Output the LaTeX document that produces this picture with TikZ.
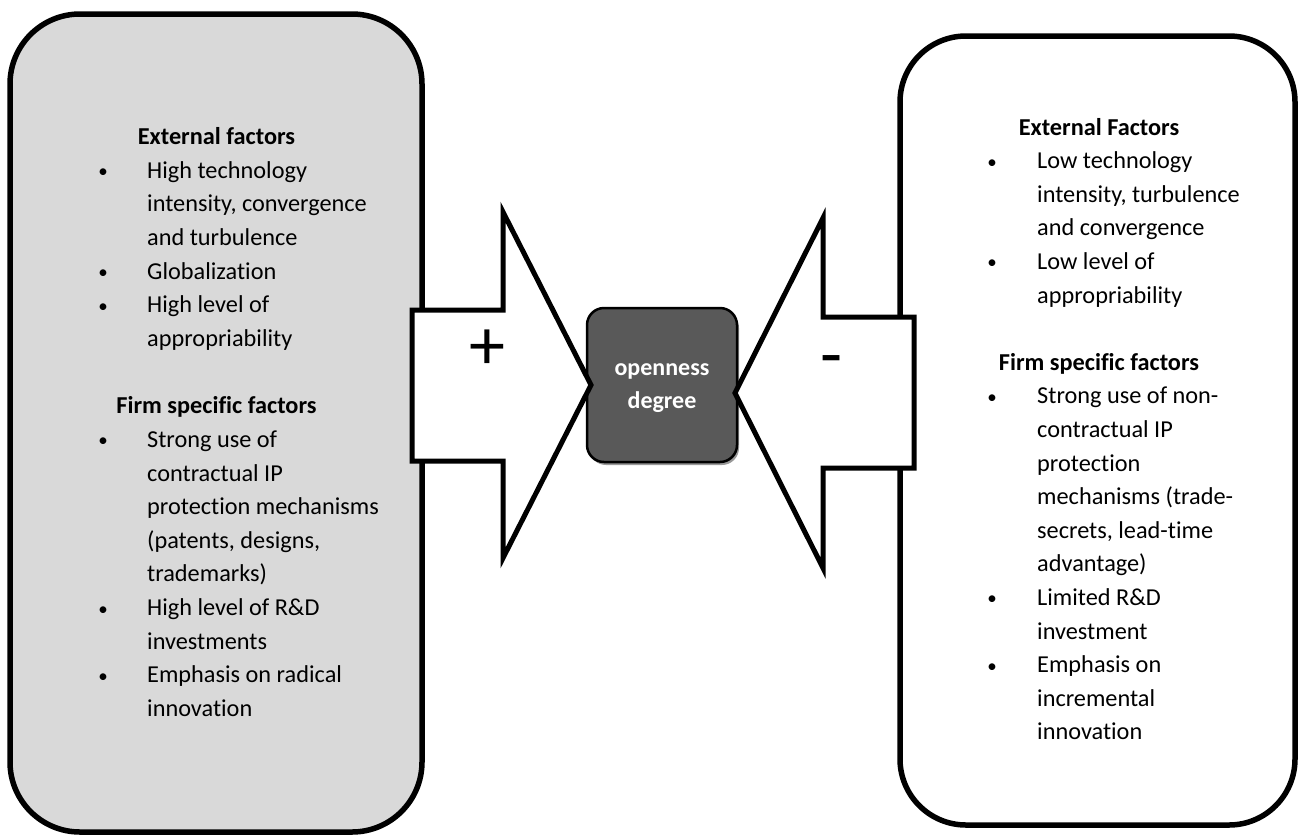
\documentclass[tikz,border=0pt]{standalone}
\usepackage{fontspec}
\setmainfont{Carlito}[Ligatures=NoCommon]
\usetikzlibrary{shadows}
\definecolor{boxgray}{HTML}{D9D9D9}
\definecolor{ctrgray}{HTML}{595959}
\begin{document}
\begin{tikzpicture}[x=1pt,y=-1pt,
  box/.style={draw=black, line width=5.5pt, inner sep=0pt},
  bigarrow/.style={draw=black, fill=white, line width=5pt, line join=miter},
  txt/.style={font=\fontsize{24.3}{28}\selectfont, anchor=base west, inner sep=0pt},
  head/.style={font=\fontsize{24.3}{28}\selectfont\bfseries, anchor=base, inner sep=0pt},
  bul/.style={font=\fontsize{19}{22}\selectfont, anchor=base, inner sep=0pt},
  ctrtxt/.style={font=\fontsize{24}{28}\selectfont\bfseries, text=white, anchor=base, inner sep=0pt},
  sign/.style={font=\fontsize{72}{80}\selectfont, inner sep=0pt}]
\useasboundingbox (0,0) rectangle (1298,836);

% side boxes
\node[box, fill=boxgray, rounded corners=70pt, minimum width=412pt, minimum height=818pt] (left) at (216,423) {};
\node[box, fill=white, rounded corners=66pt, minimum width=395pt, minimum height=789pt] (right) at (1097.5,430.5) {};

% centre node
\node[draw=black, fill=ctrgray, line width=2.5pt, rounded corners=17pt,
      minimum width=150pt, minimum height=154pt,
      drop shadow={shadow xshift=2pt, shadow yshift=-3pt, fill=black!40, opacity=1}] (ctr) at (662,385) {};
\node[ctrtxt] (ctr1) at (662,375) {openness};
\node[ctrtxt] (ctr2) at (662,408) {degree};

% big arrows
\coordinate (ltip) at (591,385);
\coordinate (rtip) at (735,393);
\draw[bigarrow] (412,310) -- (503,310) -- (503,212) -- (ltip) -- (503,558) -- (503,461) -- (412,461) -- cycle;
\draw[bigarrow] (914,317) -- (823,317) -- (823,218) -- (rtip) -- (823,568) -- (823,468) -- (914,468) -- cycle;
\node[sign] (plus) at (487,350) {+};
\node[sign] (minus) at (832,367) {-};

% left text
\node[head] (lh1) at (216.5,144.5) {External factors};
\node[bul] at (103,177.5) {\textbullet};
\node[txt] at (147,178.15) {High technology};
\node[txt] at (147,211.8) {intensity, convergence};
\node[txt] at (147,245.45) {and turbulence};
\node[bul] at (103,278.5) {\textbullet};
\node[txt] at (147,279.1) {Globalization};
\node[bul] at (103,312.1) {\textbullet};
\node[txt] at (147,312.75) {High level of};
\node[txt] at (147,346.4) {appropriability};
\node[head] (lh2) at (216.5,413.7) {Firm specific factors};
\node[bul] at (103,446.7) {\textbullet};
\node[txt] at (147,447.35) {Strong use of};
\node[txt] at (147,481.0) {contractual IP};
\node[txt] at (147,514.65) {protection mechanisms};
\node[txt] at (147,548.3) {(patents, designs,};
\node[txt] at (147,581.95) {trademarks)};
\node[bul] at (103,615) {\textbullet};
\node[txt] at (147,615.6) {High level of R\&D};
\node[txt] at (147,649.25) {investments};
\node[bul] at (103,682.3) {\textbullet};
\node[txt] at (147,682.9) {Emphasis on radical};
\node[txt] at (147,716.55) {innovation};

% right text
\node[head] (rh1) at (1099,135) {External Factors};
\node[bul] at (992,168) {\textbullet};
\node[txt] at (1037,168.6) {Low technology};
\node[txt] at (1037,202.2) {intensity, turbulence};
\node[txt] at (1037,235.8) {and convergence};
\node[bul] at (992,268.8) {\textbullet};
\node[txt] at (1037,269.4) {Low level of};
\node[txt] at (1037,303) {appropriability};
\node[head] (rh2) at (1099,370.2) {Firm specific factors};
\node[bul] at (992,403.2) {\textbullet};
\node[txt] at (1037,403.8) {Strong use of non-};
\node[txt] at (1037,437.4) {contractual IP};
\node[txt] at (1037,471) {protection};
\node[txt] at (1037,504.6) {mechanisms (trade-};
\node[txt] at (1037,538.2) {secrets, lead-time};
\node[txt] at (1037,571.8) {advantage)};
\node[bul] at (992,604.8) {\textbullet};
\node[txt] at (1037,605.4) {Limited R\&D};
\node[txt] at (1037,639) {investment};
\node[bul] at (992,672) {\textbullet};
\node[txt] at (1037,672.6) {Emphasis on};
\node[txt] at (1037,706.2) {incremental};
\node[txt] at (1037,739.8) {innovation};
\end{tikzpicture}
\end{document}
